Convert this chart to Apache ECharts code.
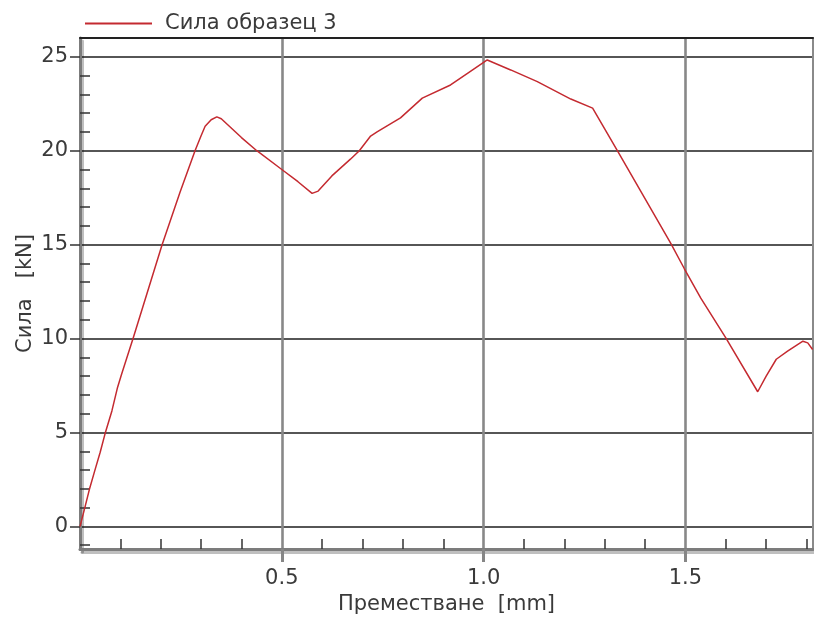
<!DOCTYPE html>
<html>
<head>
<meta charset="utf-8">
<script src="https://cdn.jsdelivr.net/npm/echarts@6/dist/echarts.min.js"></script>
<style>
  html, body { margin: 0; padding: 0; background: #ffffff; }
  #chart { width: 814px; height: 620px; }
</style>
</head>
<body>
<div id="chart"></div>
<script>
// Force–displacement record, specimen 3
const seriesName = 'Сила образец 3';
const displacement = [0, 0.012, 0.023, 0.037, 0.050, 0.062, 0.079, 0.093, 0.103, 0.132, 0.170, 0.203, 0.248, 0.285, 0.300, 0.310, 0.325, 0.339, 0.350, 0.400, 0.438, 0.500, 0.540, 0.575, 0.590, 0.624, 0.670, 0.692, 0.720, 0.736, 0.794, 0.848, 0.918, 0.960, 1.009, 1.067, 1.133, 1.216, 1.270, 1.332, 1.464, 1.497, 1.538, 1.600, 1.679, 1.700, 1.725, 1.753, 1.791, 1.803, 1.815];
const force = [0, 1.00, 1.95, 3.00, 3.95, 4.93, 6.15, 7.40, 8.10, 10.04, 12.68, 14.97, 17.80, 20.00, 20.80, 21.30, 21.65, 21.80, 21.70, 20.70, 20.00, 19.00, 18.35, 17.73, 17.85, 18.66, 19.55, 20.00, 20.78, 21.00, 21.75, 22.80, 23.50, 24.12, 24.83, 24.30, 23.68, 22.75, 22.27, 19.98, 15.05, 13.73, 12.15, 10.04, 7.17, 8.00, 8.90, 9.33, 9.86, 9.77, 9.42];

// Axis ticks
const xMajorTicks = [0.5, 1.0, 1.5];
const yMajorTicks = [0, 5, 10, 15, 20, 25];
const xRange = [0, 1.816];
const yRange = [-1.2, 26];

// Minor ticks every 0.1 mm and every 1 kN, skipping the major positions
const xMinorTicks = [];
for (let i = 1; i <= 18; i++) { if (i % 5 !== 0) xMinorTicks.push(+(i / 10).toFixed(1)); }
const yMinorTicks = [];
for (let v = -1; v <= 25; v++) { if (v % 5 !== 0) yMinorTicks.push(v); }

const FONT = 'DejaVu Sans';
const FS = 21;
const TXT = '#3a3a3a';
const LINE_RED = '#c42a30';
const axisShadow = { shadowColor: 'rgba(0,0,0,0.25)', shadowOffsetX: 2, shadowOffsetY: 3, shadowBlur: 0 };

const chart = echarts.init(document.getElementById('chart'), null, { renderer: 'canvas' });
chart.setOption({
  animation: false,
  backgroundColor: '#ffffff',
  legend: {
    left: 80, top: 8,
    icon: 'rect',
    itemWidth: 67, itemHeight: 2,
    itemStyle: { color: LINE_RED },
    textStyle: { fontFamily: FONT, fontSize: FS, color: TXT, padding: [0, 0, 0, 8] },
    data: [seriesName]
  },
  grid: { left: 80, right: 1, top: 38, bottom: 67, containLabel: false },
  xAxis: [
    {
      type: 'value', position: 'bottom', min: xRange[0], max: xRange[1], interval: 0.5,
      name: 'Преместване  [mm]', nameLocation: 'middle', nameGap: 45, nameMoveOverlap: false,
      nameTextStyle: { fontFamily: FONT, fontSize: FS, color: TXT },
      axisLine: { onZero: false, lineStyle: Object.assign({ color: '#7c7c7c', width: 3 }, axisShadow) },
      axisTick: { show: true, inside: false, length: 13, customValues: xMajorTicks, lineStyle: { color: '#868686', width: 3 } },
      axisLabel: { customValues: xMajorTicks, margin: 19, fontFamily: FONT, fontSize: FS, color: TXT, formatter: v => v.toFixed(1) },
      splitLine: { show: true, lineStyle: { color: '#888888', width: 2.6 } }
    },
    {
      type: 'value', position: 'bottom', min: xRange[0], max: xRange[1],
      axisLine: { show: false, onZero: false },
      axisTick: { show: true, inside: true, length: 10, customValues: xMinorTicks, lineStyle: { color: '#333333', width: 1.5 } },
      axisLabel: { show: false },
      splitLine: { show: false }
    },
    {
      type: 'value', position: 'top', min: xRange[0], max: xRange[1],
      axisLine: { show: true, onZero: false, lineStyle: { color: '#222222', width: 2 } },
      axisTick: { show: false }, axisLabel: { show: false }, splitLine: { show: false }
    }
  ],
  yAxis: [
    {
      type: 'value', position: 'left', min: yRange[0], max: yRange[1],
      name: 'Сила   [kN]', nameLocation: 'middle', nameGap: 44, nameRotate: 90, nameMoveOverlap: false,
      nameTextStyle: { fontFamily: FONT, fontSize: FS, color: TXT },
      axisLine: { show: true, onZero: false, lineStyle: Object.assign({ color: '#7c7c7c', width: 3 }, axisShadow) },
      axisTick: { show: true, inside: false, length: 10, customValues: yMajorTicks, lineStyle: { color: '#333333', width: 1.5 } },
      axisLabel: { customValues: yMajorTicks, margin: 12, fontFamily: FONT, fontSize: FS, color: TXT },
      splitLine: { show: true, lineStyle: { color: '#1e1e1e', width: 1.6 } }
    },
    {
      type: 'value', position: 'left', min: yRange[0], max: yRange[1],
      axisLine: { show: false, onZero: false },
      axisTick: { show: true, inside: true, length: 10, customValues: yMinorTicks, lineStyle: { color: '#333333', width: 1.5 } },
      axisLabel: { show: false }, splitLine: { show: false }
    },
    {
      type: 'value', position: 'right', min: yRange[0], max: yRange[1],
      axisLine: { show: true, onZero: false, lineStyle: { color: '#8a8a8a', width: 2 } },
      axisTick: { show: false }, axisLabel: { show: false }, splitLine: { show: false }
    }
  ],
  series: [
    {
      name: seriesName, type: 'line', xAxisIndex: 0, yAxisIndex: 0,
      symbol: 'none', smooth: false,
      lineStyle: { color: LINE_RED, width: 1.5 },
      itemStyle: { color: LINE_RED },
      data: displacement.map((x, i) => [x, force[i]])
    }
  ]
});
</script>
</body>
</html>
